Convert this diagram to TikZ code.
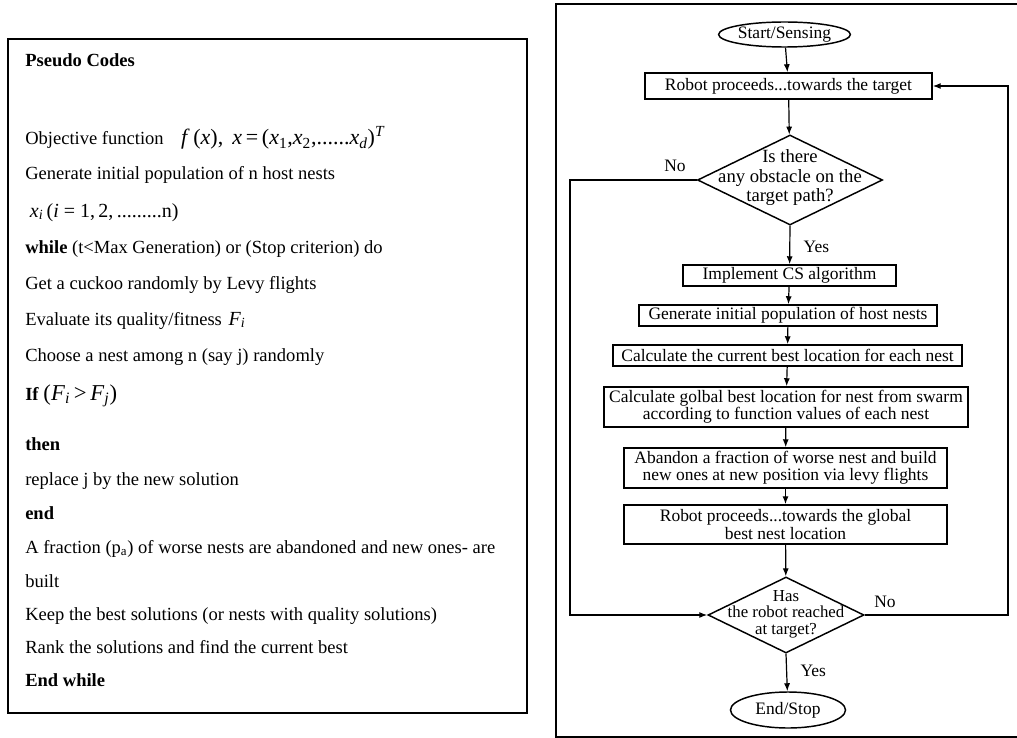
\documentclass[tikz,border=0pt]{standalone}
\usepackage{fontspec}
\setmainfont{Liberation Serif}
\usetikzlibrary{shapes.geometric,arrows.meta}
\newcommand\pcfont{\fontsize{13.9}{16}\selectfont}
\newcommand\flfont{\fontsize{13.1}{12.8}\selectfont}
\newcommand\eqsize[1]{\fontsize{#1}{18}\selectfont}
\newcommand\vi[1]{\textit{#1}}
\begin{document}
\begin{tikzpicture}[x=0.75pt,y=-0.75pt,
  frame/.style={draw, line width=1.9pt},
  pc/.style={anchor=base west, inner sep=0pt, font=\pcfont},
  proc/.style={draw, line width=1.1pt, inner sep=0pt, align=center, font=\flfont},
  term/.style={draw, ellipse, line width=1.1pt, inner sep=0pt, font=\flfont},
  dec/.style={draw, diamond, line width=1.1pt, inner sep=0pt},
  dtext/.style={align=center, inner sep=0pt},
  lbl/.style={inner sep=0pt, font=\flfont},
  arr/.style={line width=0.9pt, -{Latex[length=6pt,width=4.5pt]}}]
\useasboundingbox (0,0) rectangle (1017,738);

% frames
\draw[frame] (8,39) rectangle (527,713);
\draw[frame] (556,4) rectangle (1030,737);

% pseudo code listing
\node[pc] (l1) at (25,67) {\textbf{Pseudo Codes}};
\node[pc] (l2) at (25,145) {Objective function\hspace{13pt}{\eqsize{16.5}\vi{f}\,(\vi{x}),\, \vi{x}\,=\,(\vi{x}\textsubscript{1},\vi{x}\textsubscript{2},......\vi{x}\textsubscript{\vi{d}})\textsuperscript{\vi{T}}}};
\node[pc] (l3) at (25,180) {Generate initial population of n host nests};
\node[pc] (l4) at (25,217) {\ {\eqsize{15}\vi{x}\textsubscript{\vi{i}}\,(\vi{i} = 1,\,2,\,.........n)}};
\node[pc] (l5) at (25,253) {\textbf{while} (t<Max Generation) or (Stop criterion) do};
\node[pc] (l6) at (25,289) {Get a cuckoo randomly by Levy flights};
\node[pc] (l7) at (25,325) {Evaluate its quality/fitness\hspace{5pt}{\eqsize{15}\vi{F}\textsubscript{\vi{i}}}};
\node[pc] (l8) at (25,361) {Choose a nest among n (say j) randomly};
\node[pc] (l9) at (25,400) {\textbf{If} {\eqsize{17}(\vi{F}\textsubscript{\vi{i}}\,>\,\vi{F}\textsubscript{\vi{j}})}};
\node[pc] (l10) at (25,450) {\textbf{then}};
\node[pc] (l11) at (25,485) {replace j by the new solution};
\node[pc] (l12) at (25,519) {\textbf{end}};
\node[pc] (l13) at (25,553) {A fraction (p\textsubscript{a}) of worse nests are abandoned and new ones- are};
\node[pc] (l14) at (25,587) {built};
\node[pc] (l15) at (25,620) {Keep the best solutions (or nests with quality solutions)};
\node[pc] (l16) at (25,653) {Rank the solutions and find the current best};
\node[pc] (l17) at (25,686) {\textbf{End while}};

% flowchart
\node[term, minimum width=80.25pt, minimum height=18.75pt] (start) at (784.5,34.5) {Start/Sensing};
\node[proc, minimum width=215.25pt, minimum height=19.5pt] (go) at (788.5,86) {Robot proceeds...towards the target};
\node[dec, minimum width=138.75pt, minimum height=67.5pt] (obs) at (790,180) {};
\node[dtext, font=\fontsize{14}{14.6}\selectfont] (obst) at (790,178) {Is there\\any obstacle on the\\target path?};
\node[proc, minimum width=159.75pt, minimum height=15.75pt] (cs) at (789.5,275.5) {Implement CS algorithm};
\node[proc, minimum width=223.5pt, minimum height=15.75pt] (gen) at (788,315.5) {Generate initial population of host nests};
\node[proc, minimum width=261.75pt, minimum height=15.75pt] (cur) at (787.5,355.5) {Calculate the current best location for each nest};
\node[proc, minimum width=273pt, minimum height=30pt] (glob) at (786,407) {Calculate golbal best location for nest from swarm\\according to function values of each nest};
\node[proc, minimum width=242.25pt, minimum height=30pt] (aband) at (785.5,468) {Abandon a fraction of worse nest and build\\new ones at new position via levy flights};
\node[proc, minimum width=242.25pt, minimum height=29.25pt] (best) at (785.5,524.5) {Robot proceeds...towards the global\\best nest location};
\node[dec, minimum width=117pt, minimum height=57pt] (reach) at (786,615) {};
\node[dtext, font=\fontsize{12.6}{12.3}\selectfont] (reacht) at (786,614) {Has\\the robot reached\\at target?};
\node[term, minimum width=86.25pt, minimum height=27pt] (stop) at (788,710) {End/Stop};

\coordinate (lx) at (570,400);
\coordinate (rx) at (1008,300);

\draw[arr] (start) -- (go);
\draw[arr] (go) -- (obs);
\draw[arr] (obs.south) -- node[lbl, right=10pt, pos=0.55] (yes1) {Yes} (cs);
\draw[arr] (cs) -- (gen);
\draw[arr] (gen) -- (cur);
\draw[arr] (cur) -- (glob);
\draw[arr] (glob) -- (aband);
\draw[arr] (aband) -- (best);
\draw[arr] (best) -- (reach);
\draw[arr] (reach.south) -- node[lbl, right=10pt, pos=0.45] (yes2) {Yes} (stop);
\draw[arr] (obs.west) -| (lx) |- (reach.west);
\draw[arr] (reach.east) -| (rx) |- (go.east);
\node[lbl] (no1) at (675,166) {No};
\node[lbl] (no2) at (885,602) {No};
\end{tikzpicture}
\end{document}
